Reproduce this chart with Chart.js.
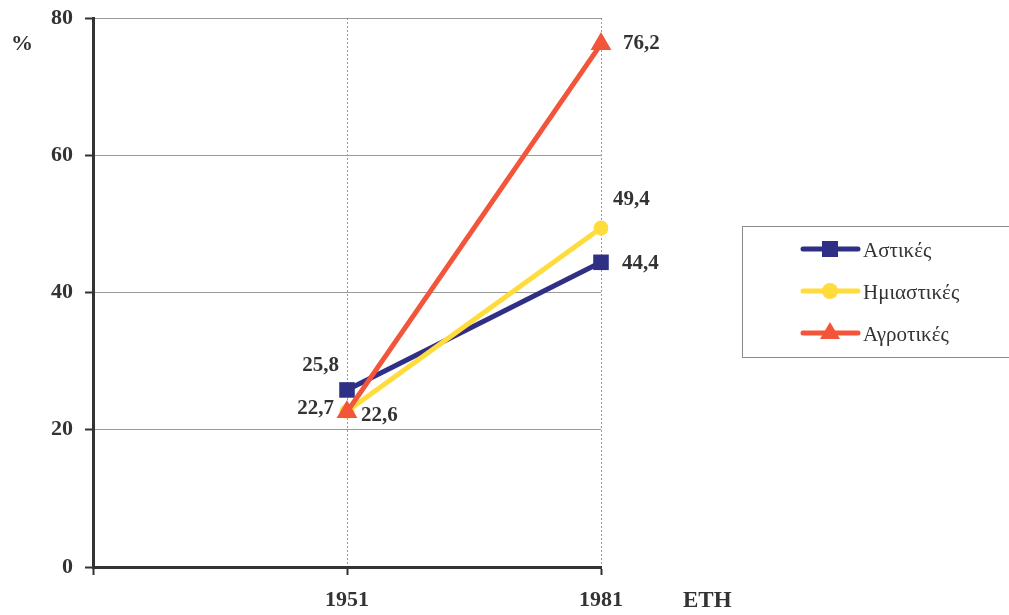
<!DOCTYPE html>
<html>
<head>
<meta charset="utf-8">
<script src="https://cdn.jsdelivr.net/npm/chart.js@4/dist/chart.umd.min.js"></script>
<style>
  html, body { margin: 0; padding: 0; background: #fff; }
  #wrap { width: 1009px; height: 615px; position: relative; }
</style>
</head>
<body>
<div id="wrap"><canvas id="c" width="1009" height="615"></canvas></div>
<script>
// Census years (leading blank slot keeps the first year away from the value axis)
const years = ['', '1951', '1981'];
const seriesNames = ['Αστικές', 'Ημιαστικές', 'Αγροτικές'];
const urban = [null, 25.8, 44.4];
const semiUrban = [null, 22.7, 49.4];
const rural = [null, 22.6, 76.2];
const yTicks = [0, 20, 40, 60, 80];

const SERIF = '"Liberation Serif", "DejaVu Serif", serif';
const colors = ['#2f2f86', '#ffdc3c', '#f2553a'];
const styles = ['rect', 'circle', 'triangle'];
const radii = [11, 7.5, 12];
// value-label placement per series and point: [dx, dy, align]
const labelPos = [
  [null, [-8, -24, 'right'], [21, 1, 'left']],
  [null, [-13, -3, 'right'], [12, -28, 'left']],
  [null, [14, 4, 'left'], [22, 0, 'left']]
];

const allValues = [urban, semiUrban, rural];
const datasets = allValues.map((vals, i) => ({
  label: seriesNames[i],
  data: vals,
  borderColor: colors[i],
  backgroundColor: colors[i],
  borderWidth: 5,
  pointStyle: styles[i],
  pointRadius: radii[i],
  pointHoverRadius: radii[i],
  pointBorderWidth: 0,
  order: 3 - i,
  tension: 0
}));

const fmt = v => v.toFixed(1).replace('.', ',');

const extras = {
  id: 'extras',
  afterDatasetsDraw(chart) {
    const ctx = chart.ctx;
    ctx.save();
    // value labels
    ctx.font = 'bold 21px ' + SERIF;
    ctx.fillStyle = '#333';
    ctx.textBaseline = 'middle';
    chart.data.datasets.forEach((ds, di) => {
      const meta = chart.getDatasetMeta(di);
      ds.data.forEach((v, pi) => {
        if (v == null) return;
        const p = meta.data[pi];
        const [dx, dy, align] = labelPos[di][pi];
        ctx.textAlign = align;
        ctx.fillText(fmt(v), p.x + dx, p.y + dy);
      });
    });
    // axis captions
    ctx.font = 'bold 22px ' + SERIF;
    ctx.textAlign = 'left';
    ctx.fillText('%', 11, 44);
    ctx.font = 'bold 23px ' + SERIF;
    ctx.fillText('ΕΤΗ', 683, 601);

    // legend box
    const bx = 742.5, by = 226.5, bw = 280, bh = 131;
    ctx.strokeStyle = '#8a8a8a';
    ctx.lineWidth = 1;
    ctx.strokeRect(bx, by, bw, bh);
    const rows = [249, 291, 333];
    chart.data.datasets.forEach((ds, i) => {
      const y = rows[i];
      ctx.strokeStyle = ds.borderColor;
      ctx.lineWidth = 5;
      ctx.lineCap = 'round';
      ctx.beginPath();
      ctx.moveTo(803, y);
      ctx.lineTo(858, y);
      ctx.stroke();
      ctx.fillStyle = ds.backgroundColor;
      ctx.beginPath();
      if (ds.pointStyle === 'rect') {
        ctx.rect(830 - 8, y - 8, 16, 16);
      } else if (ds.pointStyle === 'circle') {
        ctx.arc(830, y, 8, 0, Math.PI * 2);
      } else {
        ctx.moveTo(830, y - 11);
        ctx.lineTo(840, y + 6);
        ctx.lineTo(820, y + 6);
        ctx.closePath();
      }
      ctx.fill();
      ctx.fillStyle = '#333';
      ctx.font = '21px ' + SERIF;
      ctx.textAlign = 'left';
      ctx.textBaseline = 'middle';
      ctx.fillText(ds.label, 863, y + 2);
    });
    ctx.restore();
  }
};

new Chart(document.getElementById('c'), {
  type: 'line',
  data: { labels: years, datasets },
  options: {
    responsive: false,
    animation: false,
    events: [],
    layout: { padding: { top: 18, right: 408, bottom: 0, left: 0 } },
    plugins: { legend: { display: false }, tooltip: { enabled: false } },
    scales: {
      x: {
        type: 'category',
        offset: false,
        grid: {
          color: '#9a9a9a',
          lineWidth: 1,
          tickColor: '#333',
          tickWidth: 2,
          tickLength: 8,
          drawOnChartArea: true
        },
        border: { display: true, color: '#333', width: 3, dash: [2, 2] },
        ticks: {
          padding: 12,
          color: '#333',
          font: { family: SERIF, size: 22, weight: 'bold' },
          maxRotation: 0,
          autoSkip: false
        },
        afterFit(scale) { scale.height = 48; }
      },
      y: {
        min: 0,
        max: 80,
        afterBuildTicks(scale) { scale.ticks = yTicks.map(v => ({ value: v })); },
        grid: {
          color: '#9a9a9a',
          lineWidth: 1,
          tickColor: '#333',
          tickWidth: 2,
          tickLength: 8
        },
        border: { display: true, color: '#333', width: 3 },
        ticks: {
          padding: 12,
          color: '#333',
          font: { family: SERIF, size: 22, weight: 'bold' }
        },
        afterFit(scale) {
          scale.width = 93;
          scale.paddingTop = 0;
          scale.paddingBottom = 0;
        }
      }
    }
  },
  plugins: [extras]
});
</script>
</body>
</html>
